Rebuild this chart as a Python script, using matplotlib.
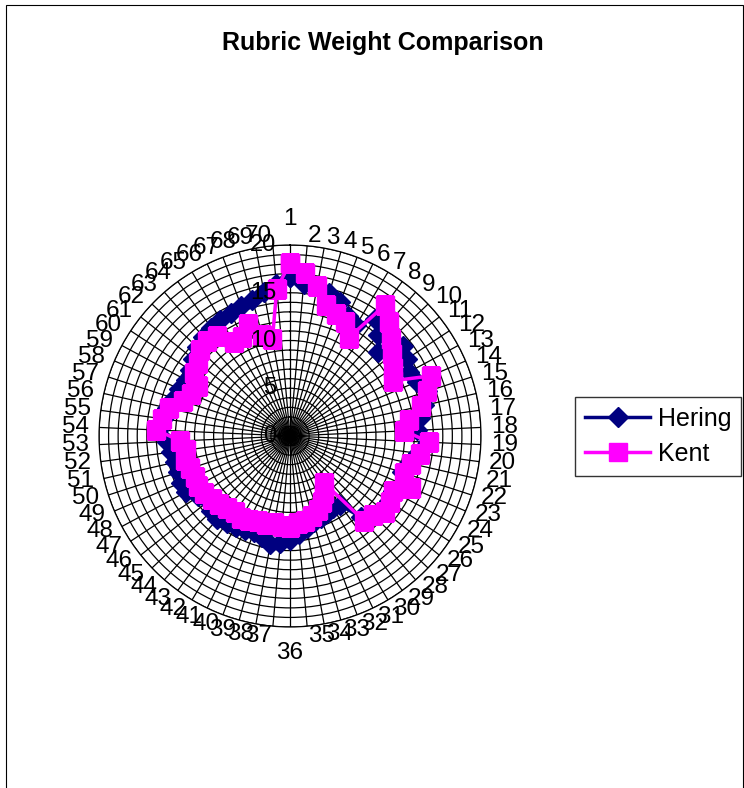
import numpy as np
import matplotlib.pyplot as plt
from matplotlib.patches import Rectangle

plt.rcParams['font.family'] = ['Liberation Sans', 'DejaVu Sans']

categories = [str(i) for i in range(1, 71)]

hering = [16.7, 16.0, 16.0, 15.5, 15.0, 14.0, 13.5, 15.2, 14.0, 12.7,
          15.2, 14.7, 14.2, 14.5, 15.1, 14.4, 13.7, 13.3, 14.5, 13.5,
          12.8, 12.3, 13.5, 12.2, 12.4, 12.5, 12.0, 11.3, 8.9, 8.8,
          9.0, 9.2, 9.3, 9.8, 10.3, 10.9, 11.2, 11.5, 11.0, 10.7,
          10.9, 11.1, 11.3, 11.6, 11.4, 11.0, 11.5, 12.4, 12.4, 12.3,
          12.4, 12.6, 12.9, 13.8, 13.4, 13.2, 12.8, 12.6, 12.4, 12.5,
          13.0, 13.5, 13.8, 14.0, 14.2, 14.3, 14.5, 14.8, 15.3, 16.0]

kent = [18.1, 17.1, 16.0, 14.2, 13.6, 13.2, 12.0, 17.0, 15.8, 14.7,
        13.7, 12.9, 12.2, 16.0, 15.1, 14.1, 12.6, 12.0, 14.6, 13.7,
        13.0, 12.5, 13.8, 12.2, 12.5, 12.7, 12.0, 11.8, 6.1, 7.0,
        7.7, 8.3, 8.7, 9.0, 9.2, 9.5, 9.5, 9.3, 9.6, 9.5,
        9.8, 10.0, 9.8, 10.0, 10.3, 10.5, 10.8, 11.0, 10.8, 11.0,
        11.3, 11.0, 11.5, 14.0, 13.5, 13.0, 11.8, 11.3, 11.0, 12.0,
        12.3, 13.0, 13.2, 13.0, 11.5, 11.5, 12.5, 11.0, 10.3, 15.5]

r_labels = [0, 5, 10, 15, 20]

n = len(categories)
theta = np.arange(n) * 2 * np.pi / n
theta_c = np.append(theta, theta[0])

fig = plt.figure(figsize=(7.44, 7.88), dpi=100)
ax = fig.add_axes([0.1331, 0.2043, 0.5134, 0.4848], projection='polar')
ax.set_theta_zero_location('N')
ax.set_theta_direction(-1)
ax.set_ylim(0, 20)

ax.plot(theta_c, np.append(hering, hering[0]), color='#000080', lw=2.5,
        marker='D', markersize=10, label='Hering', zorder=3)
ax.plot(theta_c, np.append(kent, kent[0]), color='#FF00FF', lw=2.5,
        marker='s', markersize=13.5, label='Kent', zorder=4)

ax.set_xticks(theta)
ax.set_xticklabels([])
ax.set_yticks(np.arange(1, 21))
ax.set_yticklabels([])
ax.grid(True, color='black', lw=0.9)
ax.spines['polar'].set_color('black')
ax.spines['polar'].set_linewidth(0.9)

# category labels placed like excel: left/right aligned by side
for t, lab in zip(theta, categories):
    s, c = np.sin(t), np.cos(t)
    if abs(s) < 1e-6:
        ha = 'center'
        va = 'bottom' if c > 0 else 'top'
        off = 11
    else:
        ha = 'left' if s > 0 else 'right'
        va = 'center'
        off = 7.2
    ax.annotate(lab, xy=(t, 20), xytext=(off * s, off * c),
                textcoords='offset points', ha=ha, va=va, fontsize=17.5,
                annotation_clip=False)

for v in r_labels:
    ax.annotate(str(v), xy=(0, v), xytext=(-10, 0), textcoords='offset points',
                ha='right', va='center', fontsize=17, zorder=5)

fig.text(383 / 744, 1 - 43 / 788, 'Rubric Weight Comparison', ha='center',
         va='center', fontsize=18, fontweight='bold')

fig.legend(loc='center left', bbox_to_anchor=(575 / 744, 1 - 436.5 / 788),
           fontsize=18, frameon=True, fancybox=False, edgecolor='black',
           handlelength=2.6, borderpad=0.4, labelspacing=0.45,
           handletextpad=0.3, borderaxespad=0)

fig.patches.append(Rectangle((6 / 744, -0.01), 737 / 744, 0.01 + 783 / 788,
                             transform=fig.transFigure, fill=False,
                             edgecolor='black', lw=0.8))

fig.savefig('out.png', dpi=100)
